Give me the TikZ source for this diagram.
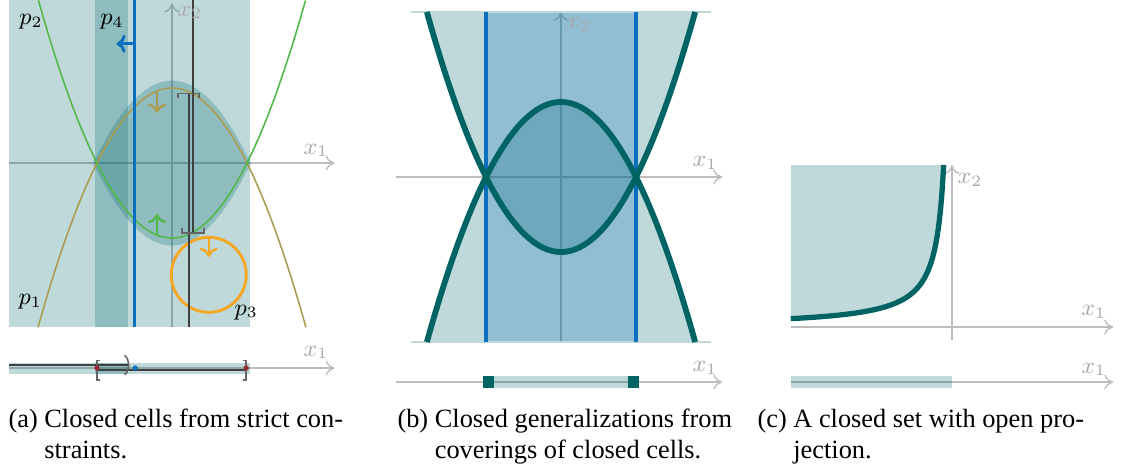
\documentclass[tikz,border=0pt]{standalone}
\usepackage[no-math]{fontspec}
\setmainfont{Liberation Serif}
\usepackage{tikz}
\usetikzlibrary{arrows.meta}
\definecolor{cell}{HTML}{00666B}
\definecolor{bound}{HTML}{006464}
\definecolor{strict}{HTML}{0B6FBF}
\definecolor{pgreen}{HTML}{52B84A}
\definecolor{pgold}{HTML}{AA9C50}
\definecolor{porange}{HTML}{F5A623}
\definecolor{axisgray}{HTML}{BDBDBD}
\definecolor{labelgray}{HTML}{A8A8A8}
\definecolor{stack}{HTML}{404040}
\definecolor{samplered}{HTML}{9B2A32}
\tikzset{
  cellfill/.style={fill=cell, fill opacity=0.25},
  axis/.style={draw=axisgray, line width=0.5pt, -{To[length=1.2mm,width=2mm]}},
  axislabel/.style={text=labelgray, font=\small, inner sep=1pt},
  plabel/.style={text=black, font=\small, inner sep=1pt},
  pone/.style={draw=pgold, line width=0.6pt},
  ptwo/.style={draw=pgreen, line width=0.6pt},
  pthree/.style={draw=porange, line width=1.1pt},
  pfour/.style={draw=strict, line width=1.1pt},
  stackline/.style={draw=stack, line width=0.7pt},
  bracket/.style={draw=stack!80, line width=0.6pt},
  boundary/.style={draw=bound, line width=2.2pt},
  caption/.style={anchor=base west, inner sep=0pt, font=\fontsize{10}{11.8}\selectfont}
}
\begin{document}
\begin{tikzpicture}[x=1cm,y=1cm]
        \useasboundingbox (0,0) rectangle (15.093,6.267);
        % (a) cells above the plane
        \begin{scope}[shift={(2.293,4.093)}]
          \draw[axis] (-2.17,0) -- (2.17,0);
          \draw[axis] (0,-2.19) -- (0,2.13);
          \fill[cellfill] (-2.17,-2.19) rectangle (1.04,2.17);
          \fill[cellfill] (-1.03,-2.19) rectangle (-0.59,2.17);
          \fill[cellfill] plot[domain=-1:1,samples=31] (\x,{1.1-\x*\x})
            .. controls (1.07,0.05) and (1.07,-0.05) .. (1,-0.1)
            -- plot[domain=1:-1,samples=31] (\x,{\x*\x-1.1})
            .. controls (-1.07,-0.05) and (-1.07,0.05) .. (-1,0.1) -- cycle;
          \draw[pone] plot[domain=-1.786:1.786,samples=61,smooth] (\x,{1-\x*\x});
          \draw[ptwo] plot[domain=-1.78:1.78,samples=61,smooth] (\x,{\x*\x-1});
          \draw[pthree] (0.49,-1.49) circle (0.5);
          \draw[pfour] (-0.5,-2.19) -- (-0.5,2.17);
          \draw[stackline] (0.28,2.17) -- (0.28,-0.93);
          \draw[stackline] (0.227,0.93) -- (0.227,-2.19);
          \draw[bracket] (0.08,0.87) -- (0.08,0.93) -- (0.36,0.93) -- (0.36,0.87);
          \draw[bracket] (0.13,-0.87) -- (0.13,-0.93) -- (0.43,-0.93) -- (0.43,-0.87);
          \draw[pfour,-{To[length=1.2mm,width=2.4mm]}] (-0.5,1.59) -- (-0.74,1.59);
          \draw[pone,line width=0.9pt,-{To[length=1.2mm,width=2.4mm]}] (-0.2,0.96) -- (-0.2,0.67);
          \draw[ptwo,line width=0.9pt,-{To[length=1.2mm,width=2.4mm]}] (-0.2,-0.96) -- (-0.2,-0.68);
          \draw[pthree,line width=0.9pt,-{To[length=1.2mm,width=2.4mm]}] (0.49,-0.99) -- (0.49,-1.25);
          \node[axislabel] (a-xone) at (1.92,0.17) {$x_1$};
          \node[axislabel] (a-xtwo) at (0.24,2.01) {$x_2$};
          \node[plabel] (a-ptwo) at (-1.88,1.88) {$p_2$};
          \node[plabel] (a-pfour) at (-0.8,1.88) {$p_4$};
          \node[plabel] (a-pone) at (-1.89,-1.85) {$p_1$};
          \node[plabel] (a-pthree) at (0.99,-1.99) {$p_3$};
        \end{scope}
        \begin{scope}[shift={(2.293,1.36)}]
          \draw[axis] (-2.17,0) -- (2.17,0);
          \fill[cellfill] (-2.17,-0.073) rectangle (1.04,0.073);
          \fill[cellfill] (-1.03,-0.073) rectangle (-0.59,0.073);
          \draw[stackline] (-2.17,0.04) -- (-0.59,0.04);
          \draw[stackline] (-1.0,-0.03) -- (0.99,-0.03);
          \draw[bracket] (-0.96,0.1) -- (-1.0,0.1) -- (-1.0,-0.16) -- (-0.96,-0.16);
          \draw[bracket] (0.95,0.1) -- (0.99,0.1) -- (0.99,-0.16) -- (0.95,-0.16);
          \draw[bracket] (-0.63,0.17) to[bend left=45] (-0.63,-0.09);
          \fill[samplered] (-1.0,0) circle (0.035);
          \fill[samplered] (0.99,0) circle (0.035);
          \fill[strict] (-0.49,0) circle (0.035);
          \node[axislabel] (a-proj) at (1.92,0.21) {$x_1$};
        \end{scope}
        % (b) generalizations
        \begin{scope}[shift={(7.48,3.907)}]
          \draw[axis] (-2.2,0) -- (2.15,0);
          \draw[axis] (0,-2.2) -- (0,2.2);
          \fill[cellfill] plot[domain=-1.789:1.789,samples=61] (\x,{\x*\x-1}) -- cycle;
          \fill[cellfill] plot[domain=-1.789:1.789,samples=61] (\x,{1-\x*\x}) -- cycle;
          \fill[strict, fill opacity=0.25] (-1,-2.2) rectangle (1,2.2);
          \draw[cell!25, line width=0.4pt] (-2,2.2) -- (2,2.2);
          \draw[cell!25, line width=0.4pt] (-2,-2.2) -- (2,-2.2);
          \draw[pfour, line width=1.5pt] (-1,-2.2) -- (-1,2.2);
          \draw[pfour, line width=1.5pt] (1,-2.2) -- (1,2.2);
          \draw[boundary] plot[domain=-1.789:1.789,samples=61,smooth] (\x,{\x*\x-1});
          \draw[boundary] plot[domain=-1.789:1.789,samples=61,smooth] (\x,{1-\x*\x});
          \node[axislabel] (b-xone) at (1.92,0.19) {$x_1$};
          \node[axislabel] (b-xtwo) at (0.23,2.03) {$x_2$};
        \end{scope}
        \begin{scope}[shift={(7.48,1.173)}]
          \draw[axis] (-2.2,0) -- (2.15,0);
          \fill[cellfill] (-1,-0.08) rectangle (1,0.08);
          \fill[bound] (-1.04,-0.08) rectangle (-0.89,0.08);
          \fill[bound] (0.89,-0.08) rectangle (1.04,0.08);
          \node[axislabel] (b-proj) at (1.92,0.19) {$x_1$};
        \end{scope}
        % (c) open projection
        \begin{scope}[shift={(12.693,1.907)}]
          \draw[axis] (-2.15,0) -- (2.15,0);
          \draw[axis] (0,-0.17) -- (0,2.16);
          \fill[cellfill] (-2.15,2.16) -- plot[domain=-2.15:-0.111,samples=120] (\x,{-0.24/\x})
            -- (-0.111,2.16) -- cycle;
          \draw[boundary, line width=2pt] plot[domain=-2.15:-0.111,samples=120,smooth] (\x,{-0.24/\x})
            -- (-0.111,2.16);
          \node[axislabel] (c-xone) at (1.89,0.2) {$x_1$};
          \node[axislabel] (c-xtwo) at (0.24,1.96) {$x_2$};
        \end{scope}
        \begin{scope}[shift={(12.693,1.173)}]
          \draw[axis] (-2.15,0) -- (2.15,0);
          \fill[cellfill] (-2.15,-0.08) rectangle (0,0.08);
          \node[axislabel] (c-proj) at (1.89,0.17) {$x_1$};
        \end{scope}
        \node[caption] (cap-a) at (0.107,0.573)
          {\begin{tabular}[t]{@{}l@{\ }l@{}}(a) & Closed cells from strict con-\\ & straints.\end{tabular}};
        \node[caption] (cap-b) at (5.293,0.573)
          {\begin{tabular}[t]{@{}l@{\ }l@{}}(b) & Closed generalizations from\\ & coverings of closed cells.\end{tabular}};
        \node[caption] (cap-c) at (10.093,0.573)
          {\begin{tabular}[t]{@{}l@{\ }l@{}}(c) & A closed set with open pro-\\ & jection.\end{tabular}};
      \end{tikzpicture}
\end{document}
